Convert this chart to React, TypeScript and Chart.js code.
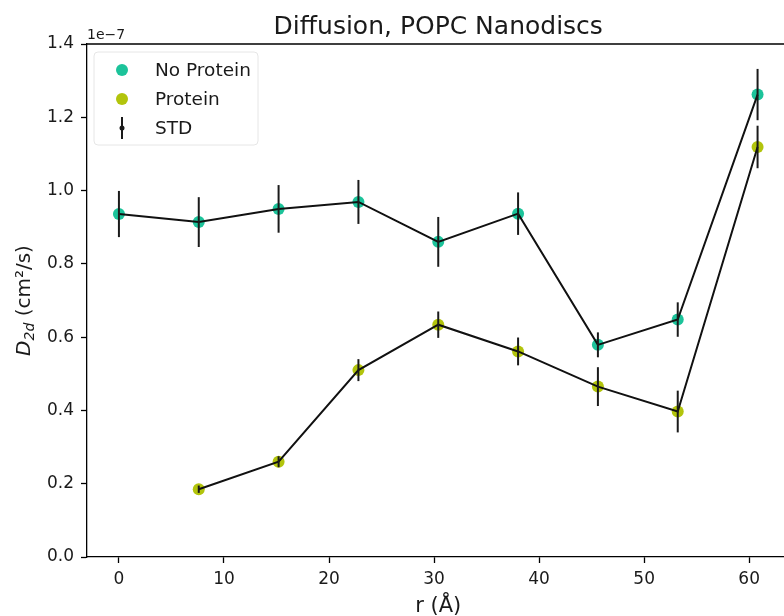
import React, { useEffect, useRef } from "react";
import { Chart, registerables } from "chart.js";

Chart.register(...registerables);

// Data (D2d in units of 1e-7 cm^2/s)
const NO_PROTEIN_R = [0, 7.6, 15.2, 22.8, 30.4, 38.0, 45.6, 53.2, 60.8];
const NO_PROTEIN = [0.936, 0.914, 0.95, 0.969, 0.86, 0.937, 0.579, 0.648, 1.262];
const NO_PROTEIN_STD = [0.063, 0.068, 0.065, 0.06, 0.068, 0.058, 0.034, 0.047, 0.07];
const PROTEIN_R = [7.6, 15.2, 22.8, 30.4, 38.0, 45.6, 53.2, 60.8];
const PROTEIN = [0.185, 0.26, 0.51, 0.634, 0.561, 0.465, 0.397, 1.119];
const PROTEIN_STD = [0.01, 0.015, 0.03, 0.036, 0.038, 0.053, 0.057, 0.058];

const X_TICKS = [0, 10, 20, 30, 40, 50, 60];
const Y_TICKS = [0, 0.2, 0.4, 0.6, 0.8, 1.0, 1.2, 1.4];

const TITLE = "Diffusion, POPC Nanodiscs";
const X_LABEL = "r (Å)";
const OFFSET_TEXT = "1e\u22127";
const LEGEND_LABELS = ["No Protein", "Protein", "STD"];

const TEAL = "#1cc39a";
const OLIVE = "#b2c40c";
const FONT = "'DejaVu Sans', sans-serif";

const toPts = (xs: number[], ys: number[]) => xs.map((x, i) => ({ x, y: ys[i] }));

const decorPlugin = {
  id: "decor",
  afterDatasetsDraw(chart: any) {
    const { ctx, scales } = chart;
    const xs = scales.x;
    const ys = scales.y;
    ctx.save();
    ctx.strokeStyle = "#1a1a1a";
    ctx.lineWidth = 2;
    const drawBars = (rx: number[], vals: number[], stds: number[]) => {
      rx.forEach((x, i) => {
        const px = xs.getPixelForValue(x);
        const top = ys.getPixelForValue(vals[i] + stds[i]);
        const bot = ys.getPixelForValue(vals[i] - stds[i]);
        ctx.beginPath();
        ctx.moveTo(px, top);
        ctx.lineTo(px, bot);
        ctx.stroke();
      });
    };
    drawBars(NO_PROTEIN_R, NO_PROTEIN, NO_PROTEIN_STD);
    drawBars(PROTEIN_R, PROTEIN, PROTEIN_STD);
    ctx.restore();
  },
  afterDraw(chart: any) {
    const { ctx, chartArea } = chart;
    ctx.save();
    // top / right spines
    ctx.strokeStyle = "#000";
    ctx.lineWidth = 1.3;
    ctx.beginPath();
    ctx.moveTo(chartArea.left, chartArea.top);
    ctx.lineTo(chartArea.right, chartArea.top);
    ctx.lineTo(chartArea.right, chartArea.bottom);
    ctx.stroke();

    // title
    const cx = (chartArea.left + chartArea.right) / 2;
    ctx.fillStyle = "#1a1a1a";
    ctx.textAlign = "center";
    ctx.textBaseline = "alphabetic";
    ctx.font = `25px ${FONT}`;
    ctx.fillText(TITLE, cx, 34);

    // offset text
    ctx.textAlign = "left";
    ctx.font = `14px ${FONT}`;
    ctx.fillText(OFFSET_TEXT, chartArea.left, 39);

    // x label
    ctx.textAlign = "center";
    ctx.font = `21px ${FONT}`;
    ctx.fillText(X_LABEL, cx, 612);

    // y label (rotated)
    const cy = (chartArea.top + chartArea.bottom) / 2;
    ctx.save();
    ctx.translate(30, cy);
    ctx.rotate(-Math.PI / 2);
    ctx.textAlign = "left";
    const f1 = `italic 20px ${FONT}`;
    const f2 = `italic 14px ${FONT}`;
    const f3 = `20px ${FONT}`;
    ctx.font = f1;
    const w1 = ctx.measureText("D").width;
    ctx.font = f2;
    const w2 = ctx.measureText("2d").width;
    ctx.font = f3;
    const w3 = ctx.measureText(" (cm\u00b2/s)").width;
    let x0 = -(w1 + w2 + w3) / 2;
    ctx.font = f1;
    ctx.fillText("D", x0, 0);
    x0 += w1;
    ctx.font = f2;
    ctx.fillText("2d", x0, 4);
    x0 += w2;
    ctx.font = f3;
    ctx.fillText(" (cm\u00b2/s)", x0, 0);
    ctx.restore();

    // legend
    const lx = 94, ly = 52, lw = 164, lh = 93, r = 4;
    ctx.beginPath();
    ctx.moveTo(lx + r, ly);
    ctx.lineTo(lx + lw - r, ly);
    ctx.quadraticCurveTo(lx + lw, ly, lx + lw, ly + r);
    ctx.lineTo(lx + lw, ly + lh - r);
    ctx.quadraticCurveTo(lx + lw, ly + lh, lx + lw - r, ly + lh);
    ctx.lineTo(lx + r, ly + lh);
    ctx.quadraticCurveTo(lx, ly + lh, lx, ly + lh - r);
    ctx.lineTo(lx, ly + r);
    ctx.quadraticCurveTo(lx, ly, lx + r, ly);
    ctx.closePath();
    ctx.fillStyle = "rgba(255,255,255,0.8)";
    ctx.fill();
    ctx.strokeStyle = "#e6e6e6";
    ctx.lineWidth = 1;
    ctx.stroke();

    const mx = 122;
    const rows = [70, 99, 128];
    ctx.fillStyle = TEAL;
    ctx.beginPath();
    ctx.arc(mx, rows[0], 6, 0, Math.PI * 2);
    ctx.fill();
    ctx.fillStyle = OLIVE;
    ctx.beginPath();
    ctx.arc(mx, rows[1], 6, 0, Math.PI * 2);
    ctx.fill();
    ctx.strokeStyle = "#1a1a1a";
    ctx.lineWidth = 2;
    ctx.beginPath();
    ctx.moveTo(mx, rows[2] - 11);
    ctx.lineTo(mx, rows[2] + 11);
    ctx.stroke();
    ctx.fillStyle = "#1a1a1a";
    ctx.beginPath();
    ctx.arc(mx, rows[2], 2.5, 0, Math.PI * 2);
    ctx.fill();

    ctx.fillStyle = "#1a1a1a";
    ctx.textAlign = "left";
    ctx.textBaseline = "middle";
    ctx.font = `18.5px ${FONT}`;
    LEGEND_LABELS.forEach((t, i) => ctx.fillText(t, 155, rows[i] + 1));
    ctx.restore();
  },
};

export default function App() {
  const ref = useRef<HTMLCanvasElement>(null);
  useEffect(() => {
    if (!ref.current) return;
    const chart = new Chart(ref.current, {
      type: "scatter",
      data: {
        datasets: [
          {
            label: "No Protein line",
            data: toPts(NO_PROTEIN_R, NO_PROTEIN),
            showLine: true,
            borderColor: "#111",
            borderWidth: 2,
            pointRadius: 0,
            order: 1,
          },
          {
            label: "Protein line",
            data: toPts(PROTEIN_R, PROTEIN),
            showLine: true,
            borderColor: "#111",
            borderWidth: 2,
            pointRadius: 0,
            order: 1,
          },
          {
            label: "No Protein",
            data: toPts(NO_PROTEIN_R, NO_PROTEIN),
            showLine: false,
            backgroundColor: TEAL,
            borderWidth: 0,
            pointRadius: 6,
            order: 3,
          },
          {
            label: "Protein",
            data: toPts(PROTEIN_R, PROTEIN),
            showLine: false,
            backgroundColor: OLIVE,
            borderWidth: 0,
            pointRadius: 6,
            order: 3,
          },
        ],
      },
      options: {
        animation: false,
        responsive: false,
        maintainAspectRatio: false,
        layout: { padding: { top: 44, right: 10.5, left: 0, bottom: 0 } },
        plugins: { legend: { display: false }, tooltip: { enabled: false }, title: { display: false } },
        scales: {
          x: {
            type: "linear",
            min: -3.04,
            max: 63.84,
            afterFit: (s: any) => { s.height = 59; },
            afterBuildTicks: (s: any) => { s.ticks = X_TICKS.map((v) => ({ value: v })); },
            grid: { drawOnChartArea: false, drawTicks: true, tickLength: 6, tickWidth: 1.3, tickColor: "#000" },
            border: { display: true, color: "#000", width: 1.3 },
            ticks: { color: "#1a1a1a", font: { family: "DejaVu Sans", size: 17 }, padding: 6, maxRotation: 0, callback: (v: any) => String(v) },
          },
          y: {
            type: "linear",
            min: 0,
            max: 1.4,
            afterFit: (s: any) => { s.width = 87; },
            afterBuildTicks: (s: any) => { s.ticks = Y_TICKS.map((v) => ({ value: v })); },
            grid: { drawOnChartArea: false, drawTicks: true, tickLength: 6, tickWidth: 1.3, tickColor: "#000" },
            border: { display: true, color: "#000", width: 1.3 },
            ticks: { color: "#1a1a1a", font: { family: "DejaVu Sans", size: 17 }, padding: 7, callback: (v: any) => Number(v).toFixed(1) },
          },
        },
      },
      plugins: [decorPlugin],
    } as any);
    return () => chart.destroy();
  }, []);
  return (
    <div style={{ position: "fixed", left: 0, top: 0, width: 784, height: 616, overflow: "hidden", background: "#fff" }}>
      <canvas ref={ref} width={800} height={616} style={{ width: 800, height: 616, display: "block" }} />
    </div>
  );
}
